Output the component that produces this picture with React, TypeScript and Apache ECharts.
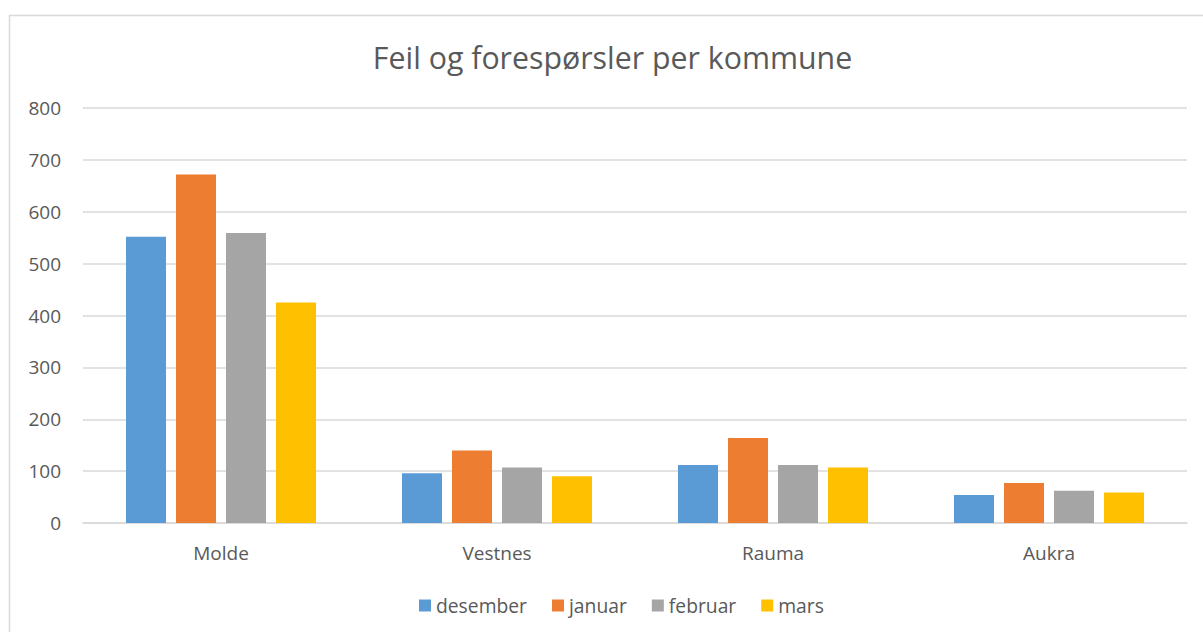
import React, { useEffect, useRef } from "react";
import * as echarts from "echarts";

const categories = ["Molde", "Vestnes", "Rauma", "Aukra"];
const seriesNames = ["desember", "januar", "februar", "mars"];
const desember = [552, 96, 112, 54];
const januar = [672, 140, 164, 77];
const februar = [559, 107, 112, 62];
const mars = [425, 90, 107, 59];
const colors = ["#5B9BD5", "#ED7D31", "#A5A5A5", "#FFC000"];
const titleText = "Feil og forespørsler per kommune";

const FONT = "'Open Sans', 'Noto Sans', sans-serif";
const TXT = "#595959";

export default function App() {
  const ref = useRef<HTMLDivElement>(null);
  useEffect(() => {
    if (!ref.current) return;
    const chart = echarts.init(ref.current, undefined, { renderer: "svg" });
    const values = [desember, januar, februar, mars];
    chart.setOption({
      animation: false,
      backgroundColor: "#ffffff",
      textStyle: { fontFamily: FONT },
      graphic: [
        {
          type: "rect",
          shape: { x: 9.5, y: 15.5, width: 1210, height: 640 },
          style: { fill: "none", stroke: "#D9D9D9", lineWidth: 1.5 },
          silent: true,
        },
        {
          type: "text",
          x: 612.5,
          y: 57,
          style: {
            text: titleText,
            fill: TXT,
            font: `30.3px ${FONT}`,
            textAlign: "center",
            textVerticalAlign: "middle",
          },
        },
      ],
      legend: {
        data: seriesNames,
        left: 414,
        top: 591,
        itemWidth: 12,
        itemHeight: 12,
        itemGap: 25,
        icon: "rect",
        textStyle: { color: TXT, fontSize: 19.3, fontFamily: FONT },
      },
      grid: { left: 83, right: 16, top: 108, bottom: 109, containLabel: false },
      xAxis: {
        type: "category",
        data: categories,
        axisLine: { lineStyle: { color: "#D9D9D9", width: 1.5 } },
        axisTick: { show: false },
        axisLabel: { color: TXT, fontSize: 19, fontFamily: FONT, margin: 20 },
      },
      yAxis: {
        type: "value",
        min: 0,
        max: 800,
        interval: 100,
        axisLine: { show: false },
        axisTick: { show: false },
        splitLine: { lineStyle: { color: "#D9D9D9", width: 1.5 } },
        axisLabel: { color: TXT, fontSize: 19, fontFamily: FONT, margin: 22 },
      },
      series: seriesNames.map((name, i) => ({
        name,
        type: "bar",
        data: values[i],
        barWidth: 40,
        barGap: "25%",
        itemStyle: { color: colors[i] },
      })),
    });
    return () => chart.dispose();
  }, []);
  return (
    <div
      ref={ref}
      style={{ position: "fixed", left: 0, top: 0, width: 1203, height: 632 }}
    />
  );
}
